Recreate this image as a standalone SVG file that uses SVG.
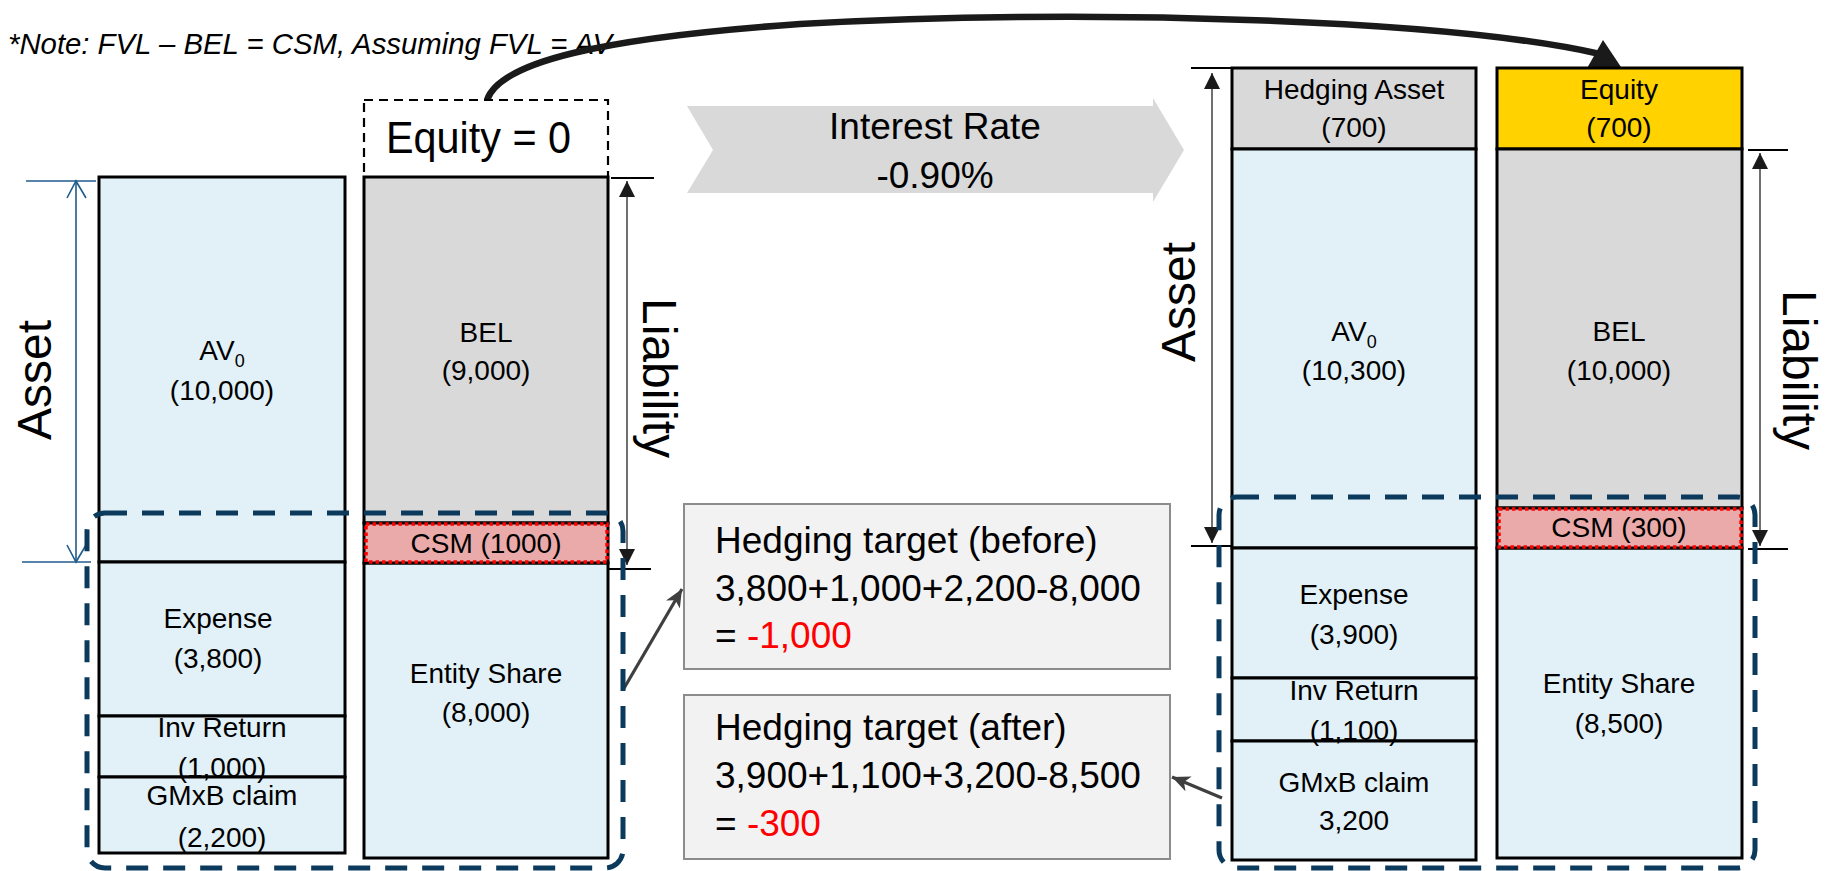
<svg xmlns="http://www.w3.org/2000/svg" width="1825" height="871" viewBox="0 0 1825 871">
  <defs>
    <style>
      text { font-family: "Liberation Sans", Arial, sans-serif; fill: #000; }
      .lbl { font-size: 28px; text-anchor: middle; }
      .rate { font-size: 37px; text-anchor: middle; }
      .sub { font-size: 18px; }
      .big { font-size: 48px; text-anchor: middle; }
      .seg { stroke: #000; stroke-width: 3; }
      .blue { fill: #e2f1f7; }
      .gray { fill: #d9d9d9; }
      .gold { fill: #ffd200; }
      .csm { fill: #ebaaaa; stroke: #000; stroke-width: 3; }
      .csm-dot { fill: none; stroke: #ff0000; stroke-width: 3.5; stroke-dasharray: 3.5 3; }
      .grp { fill: none; stroke: #0b3a5c; stroke-width: 5; stroke-dasharray: 22 15; }
      .hbox { fill: #f2f2f2; stroke: #8c8c8c; stroke-width: 2; }
      .htxt { font-size: 37px; }
      .neg { fill: #ff0000; }
      .tick { stroke: #000; stroke-width: 2; }
      .dim { stroke: #333; stroke-width: 1.4; fill: none; marker-start: url(#tri); marker-end: url(#tri); }
      .bdim { stroke: #1f5b8b; stroke-width: 1.6; fill: none; }
      .link { stroke: #3f3f3f; stroke-width: 3.2; fill: none; marker-end: url(#stealth); }
    </style>
    <marker id="tri" markerUnits="userSpaceOnUse" markerWidth="16" markerHeight="18" refX="16" refY="8" orient="auto-start-reverse">
      <path d="M0,0 L16,8 L0,16 z" fill="#1a1a1a"/>
    </marker>
    <marker id="stealth" markerUnits="userSpaceOnUse" markerWidth="20" markerHeight="18" refX="18" refY="8" orient="auto">
      <path d="M0,0 L18,8 L0,16 L5,8 z" fill="#3f3f3f"/>
    </marker>
  </defs>

  <!-- footnote -->
  <text x="8" y="54" font-size="30" font-style="italic" textLength="604" lengthAdjust="spacingAndGlyphs">*Note: FVL – BEL = CSM, Assuming FVL = AV</text>

  <!-- connectors -->
  <g id="connectors">
    <path d="M487,100 C500,62 600,38 800,24 C1100,8 1450,20 1600,54" fill="none" stroke="#1a1a1a" stroke-width="6.5"/>
    <polygon points="1603,40 1586,70 1623,70" fill="#1a1a1a"/>
    <line class="link" x1="623" y1="690" x2="682" y2="589"/>
    <line class="link" x1="1222" y1="798" x2="1172" y2="777"/>
  </g>

  <!-- scenario shift arrow -->
  <g id="rate-shift">
    <polygon points="687,106 1153,106 1153,98 1184,150 1153,202 1153,193 687,193 713,150" fill="#d9d9d9"/>
    <text class="rate" x="935" y="139">Interest Rate</text>
    <text class="rate" x="935" y="188">-0.90%</text>
  </g>

  <!-- before: asset column -->
  <g id="asset-before">
    <rect class="seg blue" x="99" y="177" width="246" height="385"/>
    <rect class="seg blue" x="99" y="562" width="246" height="154"/>
    <rect class="seg blue" x="99" y="716" width="246" height="61"/>
    <rect class="seg blue" x="99" y="777" width="246" height="76"/>
    <text class="lbl" x="222" y="360">AV<tspan class="sub" dy="7">0</tspan></text>
    <text class="lbl" x="222" y="400">(10,000)</text>
    <text class="lbl" x="218" y="628">Expense</text>
    <text class="lbl" x="218" y="668">(3,800)</text>
    <text class="lbl" x="222" y="737">Inv Return</text>
    <text class="lbl" x="222" y="777">(1,000)</text>
    <text class="lbl" x="222" y="805">GMxB claim</text>
    <text class="lbl" x="222" y="847">(2,200)</text>
  </g>

  <!-- before: liability column -->
  <g id="liability-before">
    <rect x="364" y="100" width="244" height="77" fill="none" stroke="#000" stroke-width="2.2" stroke-dasharray="9 6"/>
    <text x="386" y="153" font-size="44" textLength="185" lengthAdjust="spacingAndGlyphs">Equity = 0</text>
    <rect class="seg gray" x="364" y="177" width="244" height="346"/>
    <rect class="seg blue" x="364" y="563" width="244" height="295"/>
    <rect class="csm" x="364" y="523" width="244" height="40"/>
    <rect class="csm-dot" x="366" y="524" width="241" height="38"/>
    <text class="lbl" x="486" y="342">BEL</text>
    <text class="lbl" x="486" y="380">(9,000)</text>
    <text class="lbl" x="486" y="553">CSM (1000)</text>
    <text class="lbl" x="486" y="683">Entity Share</text>
    <text class="lbl" x="486" y="722">(8,000)</text>
  </g>

  <!-- before: dimension lines -->
  <g id="dims-before">
    <line class="bdim" x1="26" y1="181" x2="96" y2="181"/>
    <line class="bdim" x1="22" y1="562" x2="91" y2="562"/>
    <line class="bdim" x1="76" y1="181" x2="76" y2="562"/>
    <polyline class="bdim" points="67,198 76,181 86,198"/>
    <polyline class="bdim" points="67,545 76,562 86,545"/>
    <text class="big" transform="translate(51,380) rotate(-90)">Asset</text>
    <line class="tick" x1="611" y1="178" x2="654" y2="178"/>
    <line class="tick" x1="609" y1="569" x2="651" y2="569"/>
    <line class="dim" x1="627" y1="181" x2="627" y2="565"/>
    <text class="big" transform="translate(643,378) rotate(90)">Liability</text>
  </g>

  <!-- after: asset column -->
  <g id="asset-after">
    <rect class="seg gray" x="1232" y="68" width="244" height="81"/>
    <rect class="seg blue" x="1232" y="149" width="244" height="399"/>
    <rect class="seg blue" x="1232" y="548" width="244" height="130"/>
    <rect class="seg blue" x="1232" y="678" width="244" height="63"/>
    <rect class="seg blue" x="1232" y="741" width="244" height="119"/>
    <text class="lbl" x="1354" y="99">Hedging Asset</text>
    <text class="lbl" x="1354" y="137">(700)</text>
    <text class="lbl" x="1354" y="341">AV<tspan class="sub" dy="7">0</tspan></text>
    <text class="lbl" x="1354" y="380">(10,300)</text>
    <text class="lbl" x="1354" y="604">Expense</text>
    <text class="lbl" x="1354" y="644">(3,900)</text>
    <text class="lbl" x="1354" y="700">Inv Return</text>
    <text class="lbl" x="1354" y="740">(1,100)</text>
    <text class="lbl" x="1354" y="792">GMxB claim</text>
    <text class="lbl" x="1354" y="830">3,200</text>
  </g>

  <!-- after: liability column -->
  <g id="liability-after">
    <rect class="seg gold" x="1497" y="68" width="245" height="81"/>
    <rect class="seg gray" x="1497" y="149" width="245" height="359"/>
    <rect class="seg blue" x="1497" y="548" width="245" height="310"/>
    <rect class="csm" x="1497" y="508" width="245" height="40"/>
    <rect class="csm-dot" x="1499" y="509" width="242" height="38"/>
    <text class="lbl" x="1619" y="99">Equity</text>
    <text class="lbl" x="1619" y="137">(700)</text>
    <text class="lbl" x="1619" y="341">BEL</text>
    <text class="lbl" x="1619" y="380">(10,000)</text>
    <text class="lbl" x="1619" y="537">CSM (300)</text>
    <text class="lbl" x="1619" y="693">Entity Share</text>
    <text class="lbl" x="1619" y="733">(8,500)</text>
  </g>

  <!-- after: dimension lines -->
  <g id="dims-after">
    <line class="tick" x1="1191" y1="68" x2="1232" y2="68"/>
    <line class="tick" x1="1191" y1="546" x2="1232" y2="546"/>
    <line class="dim" x1="1212" y1="73" x2="1212" y2="543"/>
    <text class="big" transform="translate(1195,302) rotate(-90)">Asset</text>
    <line class="tick" x1="1748" y1="150" x2="1788" y2="150"/>
    <line class="tick" x1="1748" y1="549" x2="1788" y2="549"/>
    <line class="dim" x1="1760" y1="153" x2="1760" y2="546"/>
    <text class="big" transform="translate(1783,370) rotate(90)">Liability</text>
  </g>

  <!-- hedged-item groupings -->
  <g id="hedge-scope-before">
    <rect class="grp" x="87" y="513" width="536" height="355" rx="18"/>
  </g>
  <g id="hedge-scope-after">
    <rect class="grp" x="1219" y="497" width="536" height="371" rx="18"/>
  </g>

  <!-- hedging target notes -->
  <g id="target-before">
    <rect class="hbox" x="684" y="504" width="486" height="165"/>
    <text class="htxt" x="715" y="553">Hedging target (before)</text>
    <text class="htxt" x="715" y="601">3,800+1,000+2,200-8,000</text>
    <text class="htxt" x="715" y="648">= <tspan class="neg">-1,000</tspan></text>
  </g>
  <g id="target-after">
    <rect class="hbox" x="684" y="695" width="486" height="164"/>
    <text class="htxt" x="715" y="740">Hedging target (after)</text>
    <text class="htxt" x="715" y="788">3,900+1,100+3,200-8,500</text>
    <text class="htxt" x="715" y="836">= <tspan class="neg">-300</tspan></text>
  </g>
</svg>
